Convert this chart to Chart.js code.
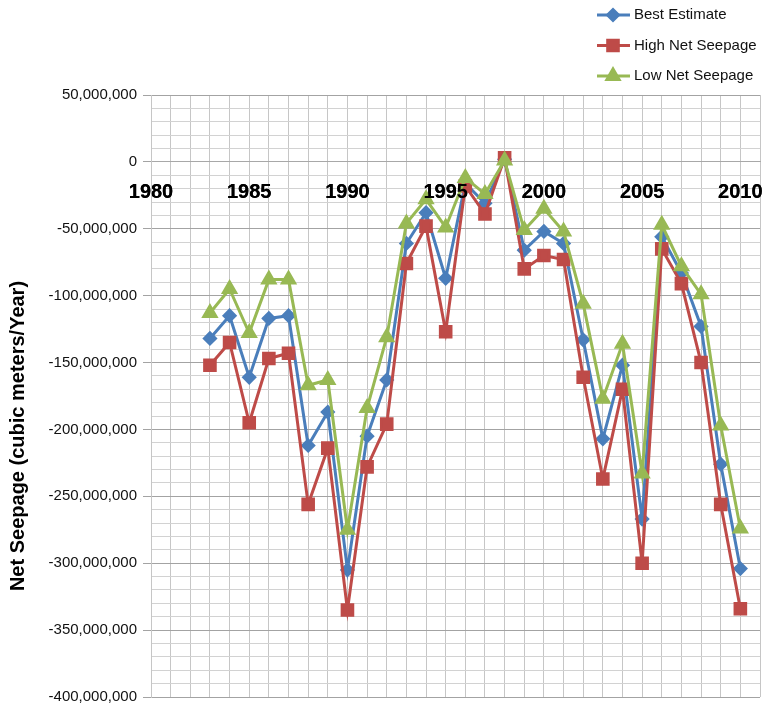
<!DOCTYPE html>
<html>
<head>
<meta charset="utf-8">
<script src="https://cdn.jsdelivr.net/npm/chart.js@4.4.1/dist/chart.umd.min.js"></script>
<style>
  html, body { margin: 0; padding: 0; background: #fff; }
  canvas { display: block; }
</style>
</head>
<body>
<canvas id="seepage" width="764" height="712"></canvas>
<script>
// values (cubic meters / year)
const years = [1983, 1984, 1985, 1986, 1987, 1988, 1989, 1990, 1991, 1992, 1993, 1994, 1995, 1996,
               1997, 1998, 1999, 2000, 2001, 2002, 2003, 2004, 2005, 2006, 2007, 2008, 2009, 2010];
const bestEstimate = [-132e6, -115e6, -161e6, -117e6, -115e6, -212e6, -187e6, -305e6, -205e6, -163e6,
                      -61e6, -38e6, -87e6, -16e6, -31e6, 2e6, -66e6, -52e6, -61e6, -133e6,
                      -207e6, -152e6, -267e6, -56e6, -83e6, -123e6, -226e6, -304e6];
const highNetSeepage = [-152e6, -135e6, -195e6, -147e6, -143e6, -256e6, -214e6, -335e6, -228e6, -196e6,
                        -76e6, -48e6, -127e6, -18e6, -39e6, 3e6, -80e6, -70e6, -73e6, -161e6,
                        -237e6, -170e6, -300e6, -65e6, -91e6, -150e6, -256e6, -334e6];
const lowNetSeepage = [-113e6, -95e6, -128e6, -88e6, -88e6, -167e6, -163e6, -275e6, -184e6, -131e6,
                       -46e6, -28e6, -49e6, -12e6, -24e6, 1e6, -51e6, -35e6, -52e6, -106e6,
                       -177e6, -136e6, -233e6, -47e6, -78e6, -99e6, -197e6, -274e6];
const seriesNames = ['Best Estimate', 'High Net Seepage', 'Low Net Seepage'];
const xLabelYears = [1980, 1985, 1990, 1995, 2000, 2005, 2010];
const yTitle = 'Net Seepage (cubic meters/Year)';

const FONT = '"Liberation Sans", Arial, sans-serif';

function points(vals) {
  return years.map((yr, i) => ({ x: yr, y: vals[i] }));
}

// legend on the top right + rotated axis title; year labels redrawn over the lines
const sideText = {
  id: 'sideText',
  afterDatasetsDraw(chart) {
    chart.scales.x.drawLabels(chart.chartArea);
  },
  afterDraw(chart) {
    const ctx = chart.ctx;
    ctx.save();
    chart.data.datasets.forEach((ds, i) => {
      const y = 15 + i * 30.5;
      ctx.strokeStyle = ds.borderColor;
      ctx.lineWidth = 3;
      ctx.beginPath();
      ctx.moveTo(597, y);
      ctx.lineTo(630, y);
      ctx.stroke();
      ctx.fillStyle = ds.backgroundColor;
      Chart.helpers.drawPoint(ctx, { pointStyle: ds.pointStyle, radius: ds.pointRadius, rotation: 0, borderWidth: 1 }, 613, y);
      ctx.fillStyle = '#111';
      ctx.font = '15px ' + FONT;
      ctx.textAlign = 'left';
      ctx.textBaseline = 'middle';
      ctx.fillText(ds.label, 634, y);
    });
    ctx.translate(18, 436);
    ctx.rotate(-Math.PI / 2);
    ctx.textAlign = 'center';
    ctx.textBaseline = 'middle';
    ctx.font = 'bold 20px ' + FONT;
    ctx.fillStyle = '#000';
    ctx.fillText(yTitle, 0, 0);
    ctx.restore();
  }
};

new Chart(document.getElementById('seepage'), {
  type: 'line',
  data: {
    datasets: [
      {
        label: seriesNames[0],
        data: points(bestEstimate),
        borderColor: '#4a7ebb',
        backgroundColor: '#4a7ebb',
        borderWidth: 3,
        pointStyle: 'rectRot',
        pointRadius: 5.5,
        order: 2
      },
      {
        label: seriesNames[1],
        data: points(highNetSeepage),
        borderColor: '#be4b48',
        backgroundColor: '#be4b48',
        borderWidth: 3,
        pointStyle: 'rect',
        pointRadius: 7.5,
        order: 1
      },
      {
        label: seriesNames[2],
        data: points(lowNetSeepage),
        borderColor: '#98b954',
        backgroundColor: '#98b954',
        borderWidth: 3,
        pointStyle: 'triangle',
        pointRadius: 7,
        order: 0
      }
    ]
  },
  options: {
    responsive: false,
    animation: false,
    devicePixelRatio: 1,
    layout: { autoPadding: false, padding: { left: 0, top: 95, right: 4, bottom: 12 } },
    plugins: {
      legend: { display: false },
      tooltip: { enabled: false }
    },
    scales: {
      x: {
        type: 'linear',
        position: { y: 0 },
        min: 1980,
        max: 2011,
        afterFit: s => { s.paddingLeft = 0; s.paddingRight = 0; },
        grid: { color: '#c6c6c6', lineWidth: 1, drawTicks: false },
        border: { color: '#a8a8a8' },
        ticks: {
          stepSize: 1,
          autoSkip: false,
          maxRotation: 0,
          padding: 19,
          color: '#000',
          font: { family: FONT, size: 20, weight: 'bold' },
          callback: v => xLabelYears.includes(v) ? String(v) : ''
        }
      },
      y: {
        min: -400e6,
        max: 50e6,
        afterFit: s => { s.width = 151; },
        grid: {
          color: c => (c.tick && c.tick.value % 50e6 === 0) ? '#a3a3a3' : '#d2d2d2',
          tickColor: c => (c.tick && c.tick.value % 50e6 === 0) ? '#a3a3a3' : 'rgba(0,0,0,0)',
          tickLength: 8
        },
        border: { color: '#c6c6c6' },
        ticks: {
          stepSize: 10e6,
          autoSkip: false,
          padding: 6,
          color: '#111',
          font: { family: FONT, size: 15 },
          callback: v => v % 50e6 === 0 ? v.toLocaleString('en-US') : ''
        }
      }
    }
  },
  plugins: [sideText]
});
</script>
</body>
</html>
